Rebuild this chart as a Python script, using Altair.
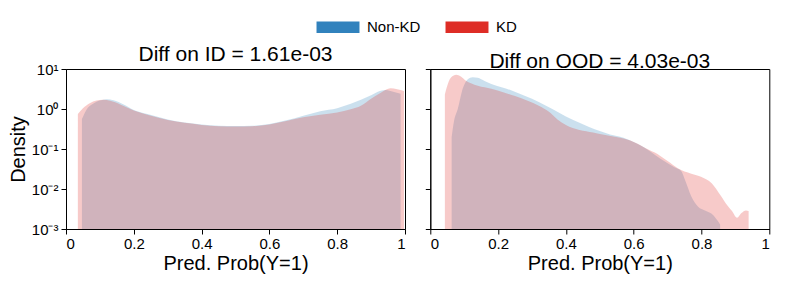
import altair as alt
import pandas as pd

series = ["Non-KD", "KD"]
colors = ["#3182bd", "#de2d26"]
titles = ["Diff on ID = 1.61e-03", "Diff on OOD = 4.03e-03"]
x_ticks = [0, 0.2, 0.4, 0.6, 0.8, 1]
y_ticks = [0.001, 0.01, 0.1, 1, 10]
y_tick_labels = ["10⁻³", "10⁻²", "10⁻¹", "10⁰", "10¹"]

# ID panel
id_nonkd_x = [0.047, 0.06, 0.08, 0.10, 0.12, 0.14, 0.17, 0.20, 0.24, 0.30, 0.35, 0.40, 0.45, 0.50,
              0.55, 0.60, 0.65, 0.70, 0.75, 0.80, 0.84, 0.87, 0.90, 0.92, 0.943, 0.965, 0.987]
id_nonkd_y = [0.56, 0.95, 1.35, 1.62, 1.75, 1.65, 1.3, 0.95, 0.75, 0.55, 0.46, 0.41, 0.38, 0.375,
              0.38, 0.42, 0.52, 0.68, 0.88, 1.05, 1.35, 1.7, 2.2, 2.7, 3.0, 2.7, 2.4]
id_kd_x = [0.035, 0.05, 0.07, 0.09, 0.11, 0.13, 0.16, 0.20, 0.24, 0.30, 0.35, 0.40, 0.45, 0.50,
           0.55, 0.60, 0.65, 0.70, 0.75, 0.80, 0.84, 0.87, 0.90, 0.93, 0.957, 0.977, 0.997]
id_kd_y = [0.75, 1.05, 1.4, 1.62, 1.7, 1.6, 1.3, 0.92, 0.72, 0.53, 0.45, 0.40, 0.37, 0.365,
           0.37, 0.41, 0.50, 0.62, 0.72, 0.82, 0.98, 1.2, 1.8, 2.6, 3.3, 3.1, 2.8]

# OOD panel
ood_nonkd_x = [0.063, 0.07, 0.081, 0.096, 0.11, 0.125, 0.14, 0.16, 0.18, 0.21, 0.24, 0.28, 0.32,
               0.36, 0.40, 0.44, 0.47, 0.50, 0.53, 0.57, 0.60, 0.63, 0.65, 0.68, 0.72, 0.74, 0.75,
               0.77, 0.79, 0.81, 0.83, 0.855]
ood_nonkd_y = [0.2, 0.5, 1.0, 3.3, 5.5, 6.2, 6.0, 5.0, 4.2, 3.5, 2.9, 2.1, 1.5,
               1.0, 0.65, 0.45, 0.35, 0.28, 0.23, 0.19, 0.15, 0.11, 0.085, 0.056, 0.035, 0.028, 0.018,
               0.0065, 0.0036, 0.0029, 0.0024, 0.0013]
ood_kd_x = [0.043, 0.055, 0.065, 0.076, 0.09, 0.105, 0.12, 0.14, 0.18, 0.217, 0.25, 0.287, 0.32,
            0.35, 0.375, 0.40, 0.44, 0.48, 0.52, 0.56, 0.60, 0.64, 0.67, 0.70, 0.73, 0.77, 0.80,
            0.83, 0.857, 0.877, 0.89, 0.905, 0.918, 0.931, 0.939]
ood_kd_y = [2.3, 5.0, 6.6, 7.2, 6.5, 5.1, 4.4, 3.8, 3.2, 2.6, 2.1, 1.6, 1.2,
            0.85, 0.55, 0.40, 0.30, 0.26, 0.22, 0.19, 0.15, 0.10, 0.075, 0.05, 0.033, 0.024, 0.02,
            0.014, 0.0068, 0.0038, 0.0028, 0.0019, 0.0025, 0.0029, 0.0028]

BASE = 0.001


def make_df(xs, ys, name):
    return pd.DataFrame({"x": xs, "y": ys, "base": [BASE] * len(xs), "series": [name] * len(xs)})


df_id = pd.concat([make_df(id_nonkd_x, id_nonkd_y, series[0]), make_df(id_kd_x, id_kd_y, series[1])])
df_ood = pd.concat([make_df(ood_nonkd_x, ood_nonkd_y, series[0]), make_df(ood_kd_x, ood_kd_y, series[1])])

label_expr = " : ".join(
    [f"datum.value < {v * 1.5} ? '{l}'" for v, l in zip(y_ticks[:-1], y_tick_labels[:-1])]
) + f" : '{y_tick_labels[-1]}'"

FONT = "Liberation Sans"


def panel(df, title, show_y):
    yaxis = alt.Axis(values=y_ticks, labelExpr=label_expr, title="Density", titlePadding=2.5,
                     labelPadding=3) if show_y else alt.Axis(values=y_ticks, labels=False, title=None)
    base = alt.Chart(df).mark_area(opacity=0.25, interpolate="monotone").encode(
        x=alt.X("x:Q", scale=alt.Scale(domain=[0, 1], nice=False),
                axis=alt.Axis(values=x_ticks, format="~g", title="Pred. Prob(Y=1)", labelPadding=2, titlePadding=2)),
        y=alt.Y("y:Q", scale=alt.Scale(type="log", domain=[0.001, 10], nice=False), axis=yaxis),
        y2="base:Q",
        color=alt.Color("series:N", scale=alt.Scale(domain=series, range=colors),
                        legend=alt.Legend(title=None, orient="none", direction="horizontal",
                                          legendX=264.5, legendY=-49.5,
                                          symbolType="M-3.58,-0.95L3.58,-0.95L3.58,0.95L-3.58,0.95Z",
                                          symbolSize=144, symbolOpacity=1, symbolStrokeWidth=0,
                                          labelFontSize=15, labelFont=FONT, columnPadding=25,
                                          labelOffset=21.5)),
    )
    blue = base.transform_filter(alt.datum.series == series[0])
    red = base.transform_filter(alt.datum.series == series[1])
    return alt.layer(blue, red).properties(
        width=339, height=160,
        title=alt.TitleParams(title, fontSize=21, font=FONT, fontWeight="normal", offset=-3),
    )


chart = alt.hconcat(panel(df_id, titles[0], True), panel(df_ood, titles[1], False), spacing=18.3).properties(
    padding={"left": 0, "top": 11, "right": 1, "bottom": 0}
).configure_view(stroke="black", strokeWidth=1).configure_axis(
    grid=False, domainColor="black", tickColor="black", labelColor="black", titleColor="black",
    labelFont=FONT, titleFont=FONT, labelFontSize=15, titleFontSize=20, titleFontWeight="normal",
    tickSize=5
)

chart.save("out.html", embed_options={"renderer": "svg", "actions": False})
